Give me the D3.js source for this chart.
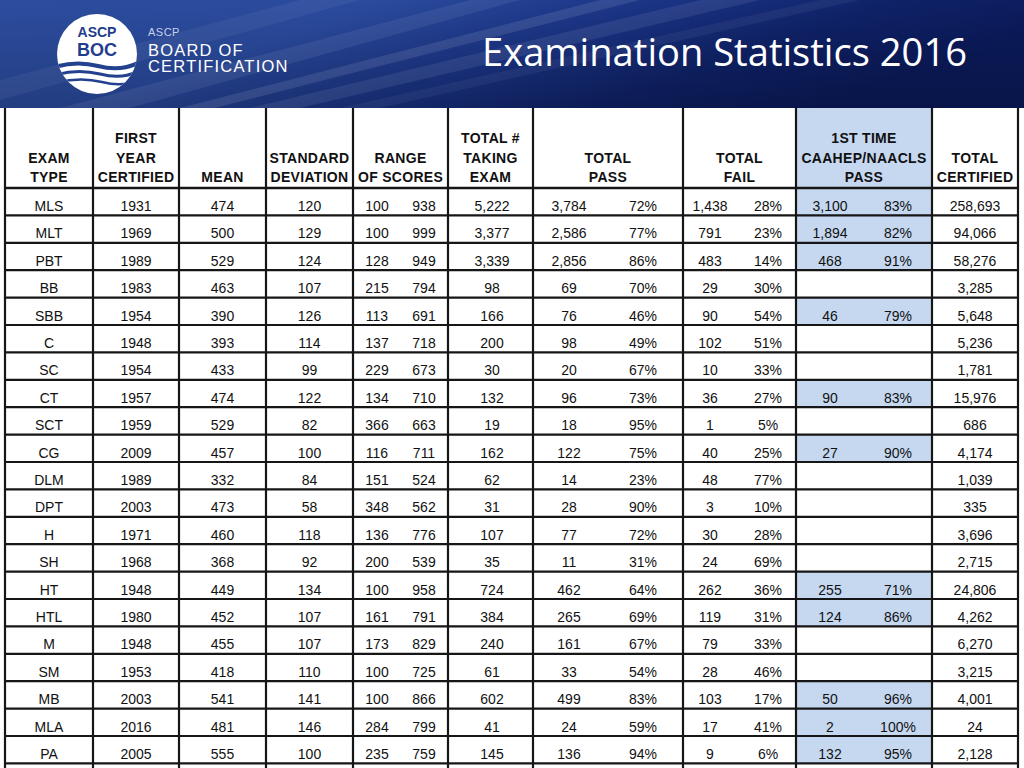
<!DOCTYPE html>
<html><head><meta charset="utf-8">
<script src="https://cdn.jsdelivr.net/npm/d3@7"></script>
<style>html,body{margin:0;padding:0;background:#fff;overflow:hidden}svg{display:block}</style>
</head><body>
<svg id="chart" width="1024" height="768"></svg>
<script>
// ---------- DATA ----------
const title = "Examination Statistics 2016";
const examTypes = ["MLS","MLT","PBT","BB","SBB","C","SC","CT","SCT","CG","DLM","DPT","H","SH","HT","HTL","M","SM","MB","MLA","PA"];
const firstYear = [1931,1969,1989,1983,1954,1948,1954,1957,1959,2009,1989,2003,1971,1968,1948,1980,1948,1953,2003,2016,2005];
const meanScore = [474,500,529,463,390,393,433,474,529,457,332,473,460,368,449,452,455,418,541,481,555];
const stdDev = [120,129,124,107,126,114,99,122,82,100,84,58,118,92,134,107,107,110,141,146,100];
const rangeLow = [100,100,128,215,113,137,229,134,366,116,151,348,136,200,100,161,173,100,100,284,235];
const rangeHigh = [938,999,949,794,691,718,673,710,663,711,524,562,776,539,958,791,829,725,866,799,759];
const totalTaking = [5222,3377,3339,98,166,200,30,132,19,162,62,31,107,35,724,384,240,61,602,41,145];
const passCount = [3784,2586,2856,69,76,98,20,96,18,122,14,28,77,11,462,265,161,33,499,24,136];
const passPct = [72,77,86,70,46,49,67,73,95,75,23,90,72,31,64,69,67,54,83,59,94];
const failCount = [1438,791,483,29,90,102,10,36,1,40,48,3,30,24,262,119,79,28,103,17,9];
const failPct = [28,23,14,30,54,51,33,27,5,25,77,10,28,69,36,31,33,46,17,41,6];
const firstTimeCount = [3100,1894,468,null,46,null,null,90,null,27,null,null,null,null,255,124,null,null,50,2,132];
const firstTimePct = [83,82,91,null,79,null,null,83,null,90,null,null,null,null,71,86,null,null,96,100,95];
const totalCertified = [258693,94066,58276,3285,5648,5236,1781,15976,686,4174,1039,335,3696,2715,24806,4262,6270,3215,4001,24,2128];
const headerLabels = [["EXAM","TYPE"],["FIRST","YEAR","CERTIFIED"],["MEAN"],["STANDARD","DEVIATION"],["RANGE","OF SCORES"],["TOTAL #","TAKING","EXAM"],["TOTAL","PASS"],["TOTAL","FAIL"],["1ST TIME","CAAHEP/NAACLS","PASS"],["TOTAL","CERTIFIED"]];

// ---------- LAYOUT ----------
const svg = d3.select("#chart");
const W = 1024, H = 768, bandH = 108;
const defs = svg.append("defs");

// header band
const g1 = defs.append("linearGradient").attr("id","band").attr("x1","0").attr("x2","1").attr("y1","0").attr("y2","0.3");
[[0,"#2c4d9f"],[0.35,"#2a4a9d"],[0.6,"#1a3384"],[0.8,"#0f2268"],[1,"#0b1a5a"]].forEach(([o,c])=>g1.append("stop").attr("offset",o).attr("stop-color",c));
svg.append("rect").attr("width",W).attr("height",bandH).attr("fill","url(#band)");
const g2 = defs.append("linearGradient").attr("id","shade").attr("x1","0").attr("x2","0").attr("y1","0").attr("y2","1");
g2.append("stop").attr("offset",0).attr("stop-color","#000").attr("stop-opacity",0);
g2.append("stop").attr("offset",1).attr("stop-color","#000").attr("stop-opacity",0.18);
svg.append("rect").attr("width",W).attr("height",bandH).attr("fill","url(#shade)");
// diagonal light streaks
const streaks = [
  {p:"M60,108 L130,108 L520,0 L470,0 Z", o:0.07},
  {p:"M180,108 L215,108 L640,0 L600,0 Z", o:0.10},
  {p:"M250,108 L300,108 L760,0 L700,0 Z", o:0.08},
  {p:"M340,108 L380,108 L860,0 L820,0 Z", o:0.05},
  {p:"M0,80 L0,100 L360,0 L300,0 Z", o:0.05}
];
svg.append("g").selectAll("path").data(streaks).join("path").attr("d",d=>d.p).attr("fill","#fff").attr("opacity",d=>d.o);

// logo
const logo = svg.append("g");
defs.append("clipPath").attr("id","circ").append("circle").attr("cx",97).attr("cy",54).attr("r",40);
logo.append("circle").attr("cx",97).attr("cy",54).attr("r",40).attr("fill","#fff");
const waves = logo.append("g").attr("clip-path","url(#circ)").attr("fill","none").attr("stroke","#23418f");
waves.append("path").attr("d","M52,68 Q75,60 98,66 T140,62").attr("stroke-width",4);
waves.append("path").attr("d","M52,76 Q76,68 100,74 T140,70").attr("stroke-width",3);
waves.append("path").attr("d","M52,84 Q78,76 102,82 T140,78").attr("stroke-width",2.5);
logo.append("text").attr("x",97).attr("y",37).attr("text-anchor","middle").attr("font-family","Liberation Sans, Arial, sans-serif").attr("font-weight","bold").attr("font-size",14).attr("fill","#1f3d8c").text("ASCP");
logo.append("text").attr("x",97).attr("y",56).attr("text-anchor","middle").attr("font-family","Liberation Sans, Arial, sans-serif").attr("font-weight","bold").attr("font-size",18).attr("fill","#1f3d8c").text("BOC");
logo.append("text").attr("x",148).attr("y",36).attr("font-family","Liberation Sans, Arial, sans-serif").attr("font-size",11).attr("fill","#c8d2ea").attr("letter-spacing",0.5).text("ASCP");
logo.append("text").attr("x",148).attr("y",56).attr("font-family","Liberation Sans, Arial, sans-serif").attr("font-size",16.5).attr("fill","#fff").attr("letter-spacing",1.2).text("BOARD OF");
logo.append("text").attr("x",148).attr("y",72).attr("font-family","Liberation Sans, Arial, sans-serif").attr("font-size",16.5).attr("fill","#fff").attr("letter-spacing",1.2).text("CERTIFICATION");

// title
svg.append("text").attr("x",482).attr("y",66).attr("font-family","Open Sans, Lato, sans-serif").attr("font-size",38)
  .attr("fill","#fff").attr("textLength",485).attr("lengthAdjust","spacingAndGlyphs").text(title);

// ---------- TABLE ----------
const colEdges = [5, 93, 179, 266, 353, 448, 533, 683, 796, 932, 1018];
const tableTop = bandH, headBottom = 188, rowH = 27.4;
const y = d3.scaleBand().domain(examTypes).range([headBottom, headBottom + rowH*examTypes.length]).padding(0);
const col = d3.scaleOrdinal().domain(d3.range(headerLabels.length)).range(colEdges.slice(0,-1));
const colW = i => colEdges[i+1] - colEdges[i];
const colC = i => col(i) + colW(i)/2;

const table = svg.append("g");
table.append("rect").attr("x",0).attr("y",tableTop).attr("width",W).attr("height",H-tableTop).attr("fill","#fff");

const blue = "#c5d8f0";
table.append("rect").attr("x",col(8)).attr("y",tableTop).attr("width",colW(8)).attr("height",headBottom-tableTop).attr("fill",blue);
table.append("g").selectAll("rect").data(examTypes.filter((d,i)=>firstTimeCount[i]!==null)).join("rect")
  .attr("x",col(8)).attr("y",d=>y(d)).attr("width",colW(8)).attr("height",y.bandwidth()).attr("fill",blue);

const font = "Liberation Sans, Arial, Helvetica, sans-serif";
const sy = 1.08;
const hdr = table.append("g").attr("font-family",font).attr("font-weight","bold").attr("font-size",14).attr("fill","#111").attr("text-anchor","middle");
headerLabels.forEach((lines,i)=>{
  const n = lines.length;
  lines.forEach((t,j)=>{
    hdr.append("text").attr("transform",`translate(${colC(i)},${182 - (n-1-j)*19.5}) scale(1,${sy})`).attr("letter-spacing",0.3).text(t);
  });
});

const fmtC = d3.format(","), fmtP = v => v + "%", fmtI = d3.format("d");
const cells = [
  {vals: examTypes, f: d=>d, x: colC(0)},
  {vals: firstYear, f: fmtI, x: colC(1)},
  {vals: meanScore, f: fmtI, x: colC(2)},
  {vals: stdDev, f: fmtI, x: colC(3)},
  {vals: rangeLow, f: fmtI, x: col(4)+24},
  {vals: rangeHigh, f: fmtI, x: col(4)+71},
  {vals: totalTaking, f: fmtC, x: col(5)+44},
  {vals: passCount, f: fmtC, x: col(6)+36},
  {vals: passPct, f: fmtP, x: col(6)+110},
  {vals: failCount, f: fmtC, x: col(7)+27},
  {vals: failPct, f: fmtP, x: col(7)+85},
  {vals: firstTimeCount, f: fmtC, x: col(8)+34},
  {vals: firstTimePct, f: fmtP, x: col(8)+102},
  {vals: totalCertified, f: fmtC, x: colC(9)}
];
const body = table.append("g").attr("font-family",font).attr("font-size",14).attr("fill","#111").attr("text-anchor","middle");
cells.forEach(c=>{
  body.append("g").selectAll("text").data(c.vals.map((v,i)=>({v, k: examTypes[i]})).filter(d=>d.v!==null)).join("text")
    .attr("transform",d=>`translate(${c.x},${y(d.k)+y.bandwidth()-4.5}) scale(1,${sy})`).text(d=>c.f(d.v));
});

const lines = table.append("g").attr("stroke","#161616");
lines.selectAll("line.v").data(colEdges).join("line").attr("class","v")
  .attr("x1",d=>d).attr("x2",d=>d).attr("y1",tableTop).attr("y2",H).attr("stroke-width",2.2);
const hY = [headBottom, ...examTypes.map(d=>y(d)+y.bandwidth())];
lines.selectAll("line.h").data(hY).join("line").attr("class","h")
  .attr("x1",colEdges[0]).attr("x2",colEdges[colEdges.length-1]).attr("y1",d=>d).attr("y2",d=>d)
  .attr("stroke-width",(d,i)=>i===0?2.6:2.2);
</script>
</body></html>
